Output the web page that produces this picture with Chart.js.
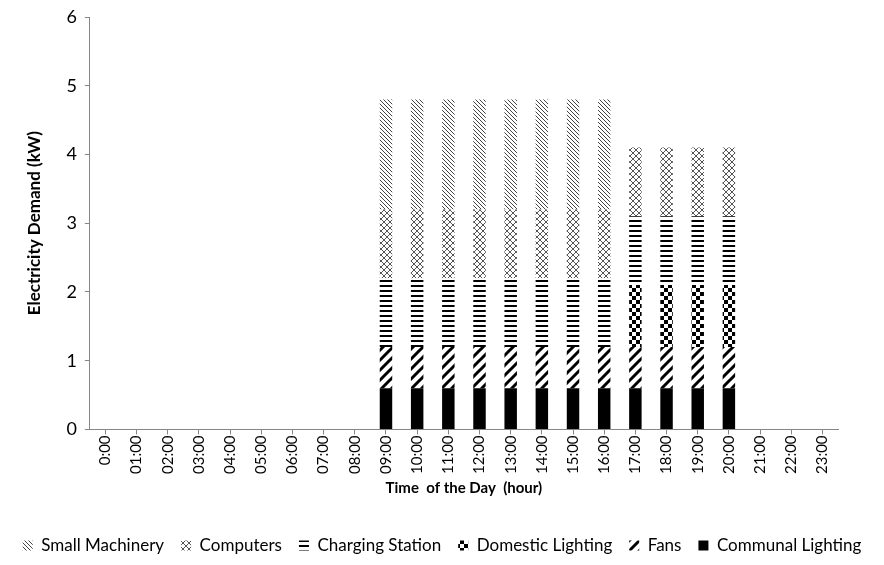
<!DOCTYPE html>
<html>
<head>
<meta charset="utf-8">
<script src="https://cdn.jsdelivr.net/npm/chart.js@4.4.1/dist/chart.umd.min.js"></script>
<style>
  html, body { margin: 0; padding: 0; background: #fff; }
  #wrap { width: 884px; height: 565px; }
</style>
</head>
<body>
<div id="wrap"><canvas id="myChart" width="884" height="565"></canvas></div>
<script>
var hours = ['0:00','01:00','02:00','03:00','04:00','05:00','06:00','07:00','08:00','09:00','10:00','11:00',
             '12:00','13:00','14:00','15:00','16:00','17:00','18:00','19:00','20:00','21:00','22:00','23:00'];

// stacked from the bottom up
var communalLighting = [0,0,0,0,0,0,0,0,0, 0.6,0.6,0.6,0.6,0.6,0.6,0.6,0.6, 0.6,0.6,0.6,0.6, 0,0,0];
var fans             = [0,0,0,0,0,0,0,0,0, 0.6,0.6,0.6,0.6,0.6,0.6,0.6,0.6, 0.6,0.6,0.6,0.6, 0,0,0];
var domesticLighting = [0,0,0,0,0,0,0,0,0, 0,0,0,0,0,0,0,0,                 0.9,0.9,0.9,0.9, 0,0,0];
var chargingStation  = [0,0,0,0,0,0,0,0,0, 1.0,1.0,1.0,1.0,1.0,1.0,1.0,1.0, 1.0,1.0,1.0,1.0, 0,0,0];
var computers        = [0,0,0,0,0,0,0,0,0, 1.0,1.0,1.0,1.0,1.0,1.0,1.0,1.0, 1.0,1.0,1.0,1.0, 0,0,0];
var smallMachinery   = [0,0,0,0,0,0,0,0,0, 1.6,1.6,1.6,1.6,1.6,1.6,1.6,1.6, 0,0,0,0,         0,0,0];

var yTicks = [0,1,2,3,4,5,6];

function tile(w, h, draw) {
  var c = document.createElement('canvas');
  c.width = w; c.height = h;
  var g = c.getContext('2d');
  g.fillStyle = '#fff';
  g.fillRect(0, 0, w, h);
  draw(g, w, h);
  return document.getElementById('myChart').getContext('2d').createPattern(c, 'repeat');
}

// thin grey back-diagonal lines
var patMachinery = tile(4, 4, function(g, w, h){
  g.strokeStyle = '#444'; g.lineWidth = 1;
  g.beginPath();
  g.moveTo(-1, -1); g.lineTo(w + 1, h + 1);
  g.moveTo(-1, h - 1); g.lineTo(1, h + 1);
  g.moveTo(w - 1, -1); g.lineTo(w + 1, 1);
  g.stroke();
});
// diamond lattice
var patComputers = tile(6, 6, function(g, w, h){
  g.strokeStyle = '#555'; g.lineWidth = 1;
  g.beginPath();
  g.moveTo(0, 0); g.lineTo(w, h);
  g.moveTo(w, 0); g.lineTo(0, h);
  g.stroke();
});
// horizontal lines
var patCharging = tile(6, 5, function(g, w, h){
  g.fillStyle = '#000';
  g.fillRect(0, 0, w, 2);
});
// checkerboard
var patDomestic = tile(8, 8, function(g, w, h){
  g.fillStyle = '#000';
  g.fillRect(0, 0, 4, 4);
  g.fillRect(4, 4, 4, 4);
});
// wide forward-diagonal stripes
var patFans = tile(10, 10, function(g, w, h){
  g.strokeStyle = '#000'; g.lineWidth = 3;
  g.beginPath();
  g.moveTo(-2, h + 2); g.lineTo(w + 2, -2);
  g.moveTo(-2, 2); g.lineTo(2, -2);
  g.moveTo(w - 2, h + 2); g.lineTo(w + 2, h - 2);
  g.stroke();
});

function ds(label, data, fill) {
  return {
    label: label,
    data: data,
    backgroundColor: fill,
    borderWidth: 0,
    barPercentage: 0.4,
    categoryPercentage: 1.0
  };
}

var axisGrey = '#868686';
var ctx = document.getElementById('myChart').getContext('2d');
var myChart = new Chart(ctx, {
  type: 'bar',
  data: {
    labels: hours,
    datasets: [
      ds('Communal Lighting', communalLighting, '#000'),
      ds('Fans', fans, patFans),
      ds('Domestic Lighting', domesticLighting, patDomestic),
      ds('Charging Station', chargingStation, patCharging),
      ds('Computers', computers, patComputers),
      ds('Small Machinery', smallMachinery, patMachinery)
    ]
  },
  options: {
    responsive: false,
    animation: false,
    layout: {
      padding: { left: 0, right: 0, top: 6, bottom: 1 }
    },
    plugins: {
      legend: {
        position: 'bottom',
        reverse: true,
        labels: {
          color: '#000',
          boxWidth: 10,
          boxHeight: 10,
          padding: 17,
          font: { family: 'Lato', size: 17 }
        }
      },
      tooltip: { enabled: false }
    },
    scales: {
      x: {
        stacked: true,
        border: { color: axisGrey, width: 1 },
        grid: { display: true, drawOnChartArea: false, offset: false, color: axisGrey, tickLength: 5 },
        ticks: {
          color: '#000',
          padding: 1,
          minRotation: 90,
          maxRotation: 90,
          autoSkip: false,
          font: { family: 'Lato', size: 15 }
        },
        title: {
          display: true,
          text: 'Time  of the Day  (hour)',
          color: '#000',
          font: { family: 'Lato', size: 15, weight: 'bold' },
          padding: { top: 4, bottom: 23 }
        }
      },
      y: {
        stacked: true,
        min: 0,
        max: 6,
        afterBuildTicks: function(axis){
          axis.ticks = yTicks.map(function(v){ return { value: v }; });
        },
        border: { color: axisGrey, width: 1 },
        grid: { display: true, drawOnChartArea: false, color: axisGrey, tickLength: 5 },
        ticks: {
          color: '#000',
          padding: 8,
          font: { family: 'Lato', size: 18, lineHeight: 1 }
        },
        title: {
          display: true,
          text: 'Electricity Demand (kW)',
          color: '#000',
          font: { family: 'Lato', size: 17, weight: 'bold' },
          padding: { top: 24, bottom: 14 }
        }
      },
      // empty right-hand gutter so the legend can keep the full width
      gutter: {
        position: 'right',
        display: true,
        grid: { display: false },
        border: { display: false },
        ticks: { display: false },
        afterFit: function(axis){ axis.width = 46; }
      }
    }
  }
});
</script>
</body>
</html>
